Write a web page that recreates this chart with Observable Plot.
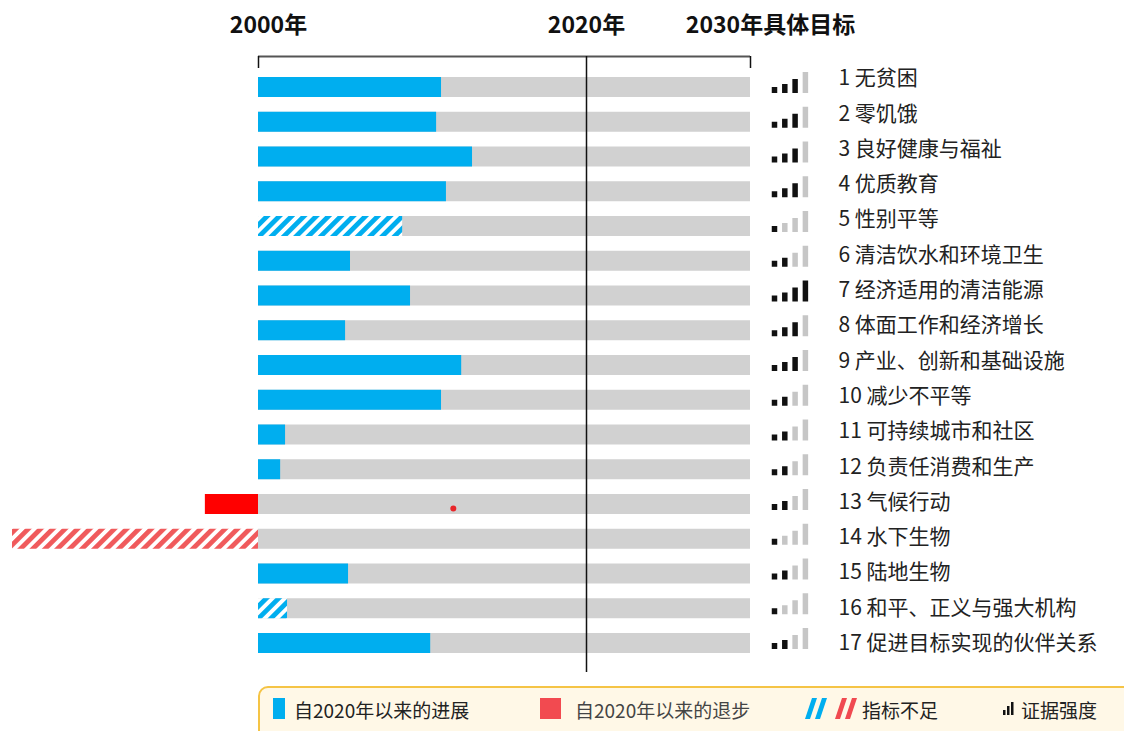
<!DOCTYPE html>
<html><head><meta charset="utf-8">
<script src="https://cdn.jsdelivr.net/npm/d3@7"></script>
<script src="https://cdn.jsdelivr.net/npm/@observablehq/plot@0.6"></script>
<style>
body{margin:0;background:#fff;font-family:"Noto Sans CJK SC","Noto Sans",sans-serif;}
#wrap{position:relative;width:1124px;height:731px;overflow:hidden;}
#legend{position:absolute;left:258px;top:686px;width:900px;height:70px;box-sizing:border-box;border:2px solid #f5c445;border-radius:10px;background:#fff8e7;}
#legend .sw{position:absolute;}
#legend .lt{position:absolute;top:21px;transform:translateY(-50%);font-size:19px;color:#222;white-space:nowrap;line-height:1;}
</style></head><body>
<div id="wrap"><div id="chart"></div><div id="legend"></div></div>
<script>
// ---- data ----
const goals = ["无贫困","零饥饿","良好健康与福祉","优质教育","性别平等","清洁饮水和环境卫生","经济适用的清洁能源","体面工作和经济增长","产业、创新和基础设施","减少不平等","可持续城市和社区","负责任消费和生产","气候行动","水下生物","陆地生物","和平、正义与强大机构","促进目标实现的伙伴关系"];
// progress as % of the way from 2000 to the 2030 target (negative = regression)
const progress = [37.2, 36.2, 43.5, 38.2, 29.3, 18.7, 30.9, 17.7, 41.3, 37.2, 5.5, 4.5, -10.8, -50.0, 18.3, 5.9, 35.0];
const insufficient = [0,0,0,0,1,0,0,0,0,0,0,0,0,1,0,1,0];
const evidence = [3,3,3,3,1,2,4,3,3,2,2,2,2,1,2,1,2];
const tickYears = [2000, 2020, 2030];
const tickLabels = ["2000年","2020年","2030年具体目标"];
const markerGoal = [13];
const markerValue = [39.6];
const legendLabels = ["自2020年以来的进展","自2020年以来的退步","指标不足","证据强度"];

// ---- layout ----
const ROW = 34.75;               // px per row
const yearPos = y => (y - 2000) / 30 * 100;
const half = 10 / ROW;
const axisY = (56 - 87) / ROW;
const C = {blue:"#00aeef", red:"#ff0000", redH:"#f05a5c", gray:"#d1d1d1", dark:"#111", iconOff:"#c6c6c6"};

const rows = goals.map((g, i) => ({i, label: `${i + 1} ${g}`, v: progress[i], hatch: !!insufficient[i], ev: evidence[i]}));
const pos = rows.filter(d => d.v > 0), neg = rows.filter(d => d.v < 0);
const markers = markerGoal.map((g, k) => ({i: g - 1, v: markerValue[k]}));
const ticks = tickYears.map((y, k) => ({x: yearPos(y), label: tickLabels[k]}));
const tickDx = [10, 0, 20];

const iconDx = [24, 34.3, 44.6, 54.9];
const iconH = [6, 9, 14, 21];
const iconBase = 6;

const marks = [
  Plot.rect(rows, {x1: 0, x2: 100, y1: d => d.i - half, y2: d => d.i + half, fill: C.gray}),
  Plot.rect(pos.filter(d => !d.hatch), {x1: 0, x2: "v", y1: d => d.i - half, y2: d => d.i + half, fill: C.blue}),
  Plot.rect(pos.filter(d => d.hatch), {x1: 0, x2: "v", y1: d => d.i - half, y2: d => d.i + half, fill: "url(#hatch-blue)"}),
  Plot.rect(neg.filter(d => !d.hatch), {x1: "v", x2: 0, y1: d => d.i - half, y2: d => d.i + half, fill: C.red}),
  Plot.rect(neg.filter(d => d.hatch), {x1: "v", x2: 0, y1: d => d.i - half, y2: d => d.i + half, fill: "url(#hatch-red)"}),
  Plot.dot(markers, {x: "v", y: d => d.i + 4 / ROW, r: 3, fill: "#e8262a", stroke: null}),
  Plot.ruleY([axisY], {x1: 0, x2: 100, y: d => d, stroke: "#555", strokeWidth: 2}),
  Plot.ruleX([yearPos(2000), yearPos(2030)], {x: d => d, y1: axisY, y2: axisY + 12 / ROW, stroke: C.dark, strokeWidth: 1.5}),
  Plot.ruleX([yearPos(2020)], {x: d => d, y1: axisY, y2: 16 + 29 / ROW, stroke: C.dark, strokeWidth: 1.5}),
  ...ticks.map((t, k) => Plot.text([t], {x: "x", y: (25 - 87) / ROW, text: "label", dx: tickDx[k], textAnchor: "middle", fontSize: 23, fontWeight: "bold", fill: "#111"})),
  ...iconDx.map((dx, k) => Plot.ruleX(rows, {x: 100, dx, y1: d => d.i + iconBase / ROW, y2: d => d.i + (iconBase - iconH[k]) / ROW, stroke: d => d.ev > k ? C.dark : C.iconOff, strokeWidth: 5.5})),
  Plot.text(rows, {x: 100, dx: 88, y: d => (78 + 35.3 * d.i - 87) / ROW, text: "label", textAnchor: "start", fontSize: 21, fill: "#222"})
];

const chart = Plot.plot({
  width: 1124, height: 682,
  marginLeft: 0, marginRight: 0, marginTop: 0, marginBottom: 0,
  x: {domain: [-258 / 4.92, (1124 - 258) / 4.92], range: [0, 1124], axis: null},
  y: {domain: [0, 16], range: [87, 643], axis: null},
  color: {type: "identity"},
  style: {fontFamily: '"Noto Sans CJK SC","Noto Sans",sans-serif', background: "#fff", overflow: "visible"},
  marks
});
const ns = "http://www.w3.org/2000/svg";
const defs = document.createElementNS(ns, "defs");
const pat = (id, col) => `<pattern id="${id}" patternUnits="userSpaceOnUse" width="8.7" height="8.7" patternTransform="rotate(45)"><rect width="8.7" height="8.7" fill="#fff"/><rect width="4.8" height="8.7" fill="${col}"/></pattern>`;
defs.innerHTML = pat("hatch-blue", C.blue) + pat("hatch-red", C.redH) + pat("lg-blue", C.blue) + pat("lg-red", "#f04a50");
chart.prepend(defs);
document.getElementById("chart").appendChild(chart);

// ---- legend ----
const lg = document.getElementById("legend");
lg.innerHTML = `
<span class="sw" style="left:13px;top:10px;width:12px;height:21px;background:${C.blue}"></span>
<span class="lt" style="left:34px">${legendLabels[0]}</span>
<span class="sw" style="left:280px;top:10px;width:21px;height:21px;background:#f24a50"></span>
<span class="lt" style="left:315px;color:#444">${legendLabels[1]}</span>
<svg class="sw" style="left:545px;top:10px" width="54" height="21">
  <polygon points="0,21 7,0 12,0 5,21" fill="${C.blue}"/><polygon points="10,21 17,0 22,0 15,21" fill="${C.blue}"/>
  <polygon points="30,21 37,0 42,0 35,21" fill="#f04a50"/><polygon points="40,21 47,0 52,0 45,21" fill="#f04a50"/>
</svg>
<span class="lt" style="left:602px">${legendLabels[2]}</span>
<svg class="sw" style="left:743px;top:13px" width="12" height="14">
  <rect x="0" y="9" width="2.5" height="5" fill="#111"/><rect x="4" y="5" width="2.5" height="9" fill="#111"/><rect x="8" y="1" width="2.5" height="13" fill="#111"/>
</svg>
<span class="lt" style="left:761px">${legendLabels[3]}</span>`;
</script>
</body></html>
